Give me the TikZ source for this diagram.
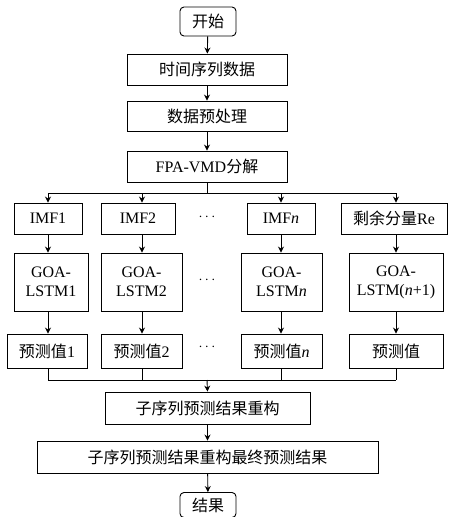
\documentclass[tikz,border=0pt]{standalone}
\usepackage{fontspec}
\setmainfont{Liberation Serif}
\newfontfamily\cjk{Noto Sans CJK SC}
\usetikzlibrary{arrows.meta}
\begin{document}
\begin{tikzpicture}[x=1pt,y=-1pt,
  box/.style={draw,line width=0.9pt,inner sep=0pt,align=center,font=\fontsize{16}{19}\selectfont},
  term/.style={box,rounded corners=4pt},
  arr/.style={line width=0.9pt,-{Stealth[length=6pt,width=6pt]}},
  ln/.style={line width=0.9pt}]
\useasboundingbox (0,0) rectangle (449,517);
\node[term,minimum width=56pt,minimum height=29pt] (start) at (208,21.5) {{\cjk 开始}};
\node[box,minimum width=160pt,minimum height=31pt] (s1) at (207,69.5) {{\cjk 时间序列数据}};
\node[box,minimum width=160pt,minimum height=30pt] (s2) at (207,116) {{\cjk 数据预处理}};
\node[box,minimum width=160pt,minimum height=31pt] (s3) at (207,166.5) {FPA-VMD{\cjk 分解}};
% IMF row
\node[box,minimum width=68pt,minimum height=31pt] (i1) at (48,218.5) {IMF1};
\node[box,minimum width=74pt,minimum height=31pt] (i2) at (138,218.5) {IMF2};
\node[box,minimum width=68pt,minimum height=31pt] (i3) at (281,218.5) {IMF\textit{n}};
\node[box,minimum width=106pt,minimum height=31pt] (i4) at (394,218.5) {{\cjk 剩余分量}Re};
% GOA row
\node[box,minimum width=74pt,minimum height=58pt] (g1) at (51,282) {GOA-\\LSTM1};
\node[box,minimum width=81pt,minimum height=58pt] (g2) at (141.5,282) {GOA-\\LSTM2};
\node[box,minimum width=81pt,minimum height=58pt] (g3) at (281.5,282) {GOA-\\LSTM\textit{n}};
\node[box,minimum width=94pt,minimum height=58pt] (g4) at (396,282) {GOA-\\LSTM(\textit{n}+1)};
% prediction row
\node[box,minimum width=80pt,minimum height=34pt] (p1) at (47,351) {{\cjk 预测值}1};
\node[box,minimum width=81pt,minimum height=34pt] (p2) at (141.5,351) {{\cjk 预测值}2};
\node[box,minimum width=81pt,minimum height=34pt] (p3) at (281.5,351) {{\cjk 预测值}\textit{n}};
\node[box,minimum width=94pt,minimum height=34pt] (p4) at (396,351) {{\cjk 预测值}};
% dots
\node[font=\fontsize{14}{16}\selectfont] (d1) at (207,217) {$\cdots$};
\node[font=\fontsize{14}{16}\selectfont] (d2) at (207,280) {$\cdots$};
\node[font=\fontsize{14}{16}\selectfont] (d3) at (207,347) {$\cdots$};
% bottom
\node[box,minimum width=205pt,minimum height=32pt] (r1) at (207.5,408) {{\cjk 子序列预测结果重构}};
\node[box,minimum width=341pt,minimum height=32pt] (r2) at (207.5,457) {{\cjk 子序列预测结果重构最终预测结果}};
\node[term,minimum width=56pt,minimum height=25pt] (end) at (208,505) {{\cjk 结果}};
% bus coordinates
\coordinate (x1) at (48,193);
\coordinate (x2) at (142,193);
\coordinate (x3) at (281,193);
\coordinate (x4) at (396,193);
\coordinate (y1) at (48,380);
\coordinate (y2) at (142,380);
\coordinate (y3) at (281,380);
\coordinate (y4) at (396,380);
\coordinate (tj) at (207,193);
\coordinate (bj) at (207,380);
% arrows top
\draw[arr] (start) -- (s1);
\draw[arr] (s1) -- (s2);
\draw[arr] (s2) -- (s3);
\draw[ln] (s3.south) -- (tj);
\draw[ln] (x1) -- (x4);
\draw[arr] (x1) -- (i1.north -| x1);
\draw[arr] (x2) -- (i2.north -| x2);
\draw[arr] (x3) -- (i3.north -| x3);
\draw[arr] (x4) -- (i4.north -| x4);
\draw[arr] (i1.south -| x1) -- (g1.north -| x1);
\draw[arr] (i2.south -| x2) -- (g2.north -| x2);
\draw[arr] (i3.south -| x3) -- (g3.north -| x3);
\draw[arr] (i4.south -| x4) -- (g4.north -| x4);
\draw[arr] (g1.south -| x1) -- (p1.north -| x1);
\draw[arr] (g2.south -| x2) -- (p2.north -| x2);
\draw[arr] (g3.south -| x3) -- (p3.north -| x3);
\draw[arr] (g4.south -| x4) -- (p4.north -| x4);
\draw[ln] (p1.south -| x1) -- (y1);
\draw[ln] (p2.south -| x2) -- (y2);
\draw[ln] (p3.south -| x3) -- (y3);
\draw[ln] (p4.south -| x4) -- (y4);
\draw[ln] (y1) -- (y4);
\draw[arr] (bj) -- (r1.north);
\draw[arr] (r1) -- (r2);
\draw[arr] (r2) -- (end);
\end{tikzpicture}
\end{document}
